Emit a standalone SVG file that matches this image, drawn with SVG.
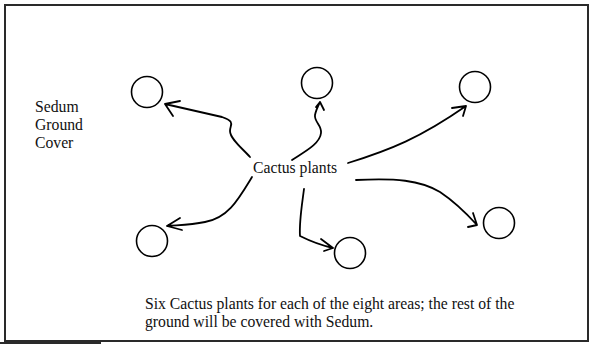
<svg xmlns="http://www.w3.org/2000/svg" width="590" height="344" viewBox="0 0 590 344">
<style>
.t{font-family:"Liberation Serif","Times New Roman",serif;font-size:15.7px;fill:#111}
.c{fill:none;stroke:#000;stroke-width:1.6}
.a{fill:none;stroke:#000;stroke-width:1.8;stroke-linecap:round;stroke-linejoin:round}
</style>
<rect x="0" y="0" width="590" height="344" fill="#fff"/>
<rect x="5" y="5" width="583" height="336" fill="none" stroke="#2a2a2a" stroke-width="2"/>
<line x1="0" y1="343" x2="101" y2="343" stroke="#2a2a2a" stroke-width="2"/>
<g id="sedum"><text class="t" x="35" y="112">Sedum</text><text class="t" x="35" y="130">Ground</text><text class="t" x="35" y="148">Cover</text></g>
<g id="cactus"><text class="t" x="253" y="173">Cactus plants</text></g>
<g id="area1"><circle class="c" cx="147" cy="92" r="15.5"/></g>
<g id="area2"><circle class="c" cx="317" cy="83" r="15.5"/></g>
<g id="area3"><circle class="c" cx="475" cy="87" r="15.5"/></g>
<g id="area4"><circle class="c" cx="152" cy="241" r="15.5"/></g>
<g id="area5"><circle class="c" cx="350" cy="253" r="15.5"/></g>
<g id="area6"><circle class="c" cx="499" cy="223" r="15.5"/></g>
<g id="connectors">
<path class="a" d="M250,157 C243,149 230,139 230,131 C230,124 236,122 222,117 L165,104 M180,101 L165,104 L173,116"/>
<path class="a" d="M292,160 C304,152 320,144 321,133 C322,125 314,122 315,115 C316,110 318,106 320,102 M316,107 L320,102 L324,110"/>
<path class="a" d="M348,163 C390,150 420,138 466,106 M452,108 L466,106 L463,116"/>
<path class="a" d="M356,180 C395,178 420,180 440,192 C455,202 467,214 477,225 M473,213 L477,225 L468,227"/>
<path class="a" d="M252,177 C238,200 228,218 205,222 C190,225 178,225 167,226 M180,218 L167,226 L182,230"/>
<path class="a" d="M304,189 C302,205 299,222 300,236 C310,241 320,245 333,248 M321,239 L333,248 L324,251"/>
</g>
<g id="note"><text class="t" x="145" y="309">Six Cactus plants for each of the eight areas; the rest of the</text><text class="t" x="145" y="327">ground will be covered with Sedum.</text></g>
</svg>
